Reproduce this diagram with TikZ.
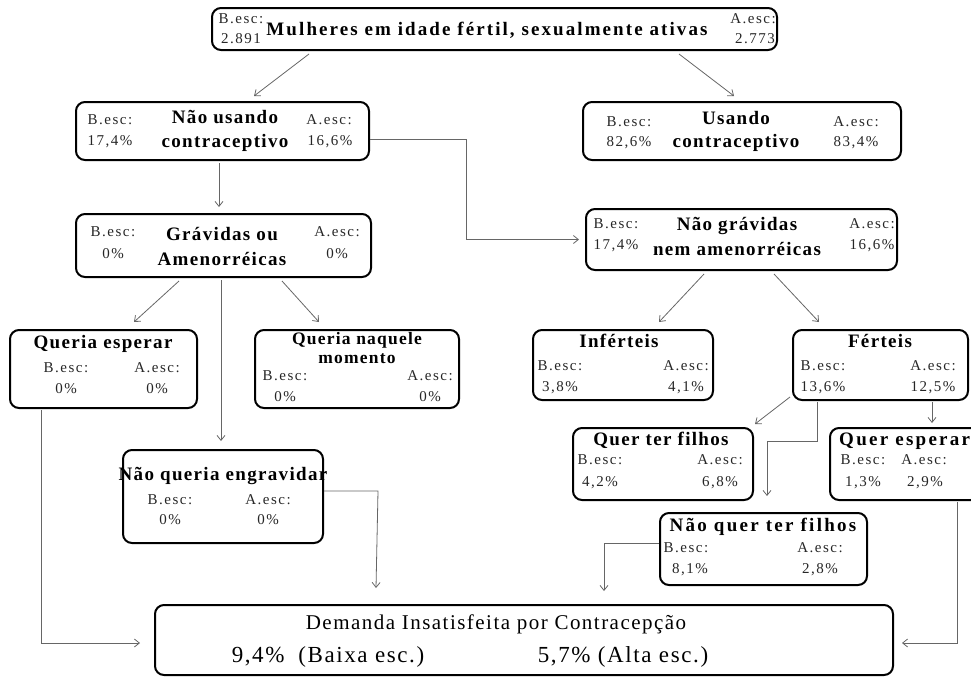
\documentclass[tikz,border=0pt]{standalone}
\usepackage{fontspec}
\setmainfont{Liberation Serif}
\newfontfamily\lsfont[LetterSpace=10]{Liberation Serif}
\newfontfamily\ttfont[LetterSpace=7]{Liberation Serif}
\newfontfamily\wideft[LetterSpace=12]{Liberation Serif}
\newfontfamily\topfont[LetterSpace=11]{Liberation Serif}
\newfontfamily\demfont[LetterSpace=7]{Liberation Serif}
\usetikzlibrary{arrows.meta,calc}
\tikzset{
 box/.style={draw=black, line width=2pt, rounded corners=9pt, inner sep=0pt},
 conn/.style={draw=black!60, line width=0.8pt, -{Straight Barb[length=5pt,width=8pt]}},
 lbl/.style={font=\lsfont\fontsize{15}{16}\selectfont, text=black!85, inner sep=0pt, text height=10pt, text depth=3pt},
 ttl/.style={font=\ttfont\bfseries\fontsize{19}{20}\selectfont, inner sep=0pt, text height=13pt, text depth=4pt},
 smttl/.style={font=\ttfont\bfseries\fontsize{17.5}{18}\selectfont, inner sep=0pt, text height=11pt, text depth=3pt},
 widettl/.style={font=\wideft\bfseries\fontsize{19}{20}\selectfont, inner sep=0pt, text height=13pt, text depth=4pt},
 toptl/.style={font=\topfont\bfseries\fontsize{19}{20}\selectfont, inner sep=0pt, text height=13pt, text depth=4pt},
 dem/.style={font=\demfont\fontsize{21}{22}\selectfont, inner sep=0pt, text height=15pt, text depth=5pt},
 dem2/.style={font=\demfont\fontsize{23}{24}\selectfont, inner sep=0pt, text height=15pt, text depth=5pt},
}
\newcommand\mybox[5]{\node[box,minimum width={(#4-#2)*1pt},minimum height={(#5-#3)*1pt}] (#1) at ({(#2+#4)/2},{(#3+#5)/2}) {};}
\begin{document}
\begin{tikzpicture}[x=1pt,y=-1pt]
\useasboundingbox (0,0) rectangle (971,681);
% top
\mybox{top}{212}{8}{777}{50}
\node[lbl] (top-b1) at (241,20) {B.esc:};
\node[lbl] (top-b2) at (241,40) {2.891};
\node[toptl] (top-t) at (487,31) {Mulheres em idade fértil, sexualmente ativas};
\node[lbl] (top-a1) at (753,20) {A.esc:};
\node[lbl] (top-a2) at (755,40) {2.773};
% nao usando
\mybox{nus}{76}{102}{369}{160}
\node[lbl] (nus-b1) at (110,121) {B.esc:};
\node[lbl] (nus-b2) at (110,142) {17,4\%};
\node[ttl] (nus-t1) at (225,119) {Não usando};
\node[ttl] (nus-t2) at (225,143) {contraceptivo};
\node[lbl] (nus-a1) at (329,121) {A.esc:};
\node[lbl] (nus-a2) at (330,142) {16,6\%};
% usando
\mybox{us}{583}{102}{901}{160}
\node[lbl] (us-b1) at (629,123) {B.esc:};
\node[lbl] (us-b2) at (629,143) {82,6\%};
\node[ttl] (us-t1) at (736,120) {Usando};
\node[ttl] (us-t2) at (736,143) {contraceptivo};
\node[lbl] (us-a1) at (856,123) {A.esc:};
\node[lbl] (us-a2) at (856,143) {83,4\%};
% gravidas
\mybox{grv}{76}{214}{371}{277}
\node[lbl] (grv-b1) at (113,233) {B.esc:};
\node[lbl] (grv-b2) at (113,255) {0\%};
\node[ttl] (grv-t1) at (222,236) {Grávidas ou};
\node[ttl] (grv-t2) at (222,261) {Amenorréicas};
\node[lbl] (grv-a1) at (337,233) {A.esc:};
\node[lbl] (grv-a2) at (337,255) {0\%};
% nao gravidas
\mybox{ngr}{586}{209}{897}{270}
\node[lbl] (ngr-b1) at (616,225) {B.esc:};
\node[lbl] (ngr-b2) at (616,246) {17,4\%};
\node[ttl] (ngr-t1) at (737,226) {Não grávidas};
\node[ttl] (ngr-t2) at (737,251) {nem amenorréicas};
\node[lbl] (ngr-a1) at (872,225) {A.esc:};
\node[lbl] (ngr-a2) at (872,246) {16,6\%};
% queria esperar
\mybox{qes}{10}{330}{197}{408}
\node[ttl] (qes-t) at (103,344) {Queria esperar};
\node[lbl] (qes-b1) at (66,369) {B.esc:};
\node[lbl] (qes-b2) at (66,390) {0\%};
\node[lbl] (qes-a1) at (157,369) {A.esc:};
\node[lbl] (qes-a2) at (157,390) {0\%};
% queria naquele momento
\mybox{qnm}{255}{330}{459}{408}
\node[smttl] (qnm-t1) at (357,340) {Queria naquele};
\node[smttl] (qnm-t2) at (357,359) {momento};
\node[lbl] (qnm-b1) at (285,377) {B.esc:};
\node[lbl] (qnm-b2) at (285,398) {0\%};
\node[lbl] (qnm-a1) at (430,377) {A.esc:};
\node[lbl] (qnm-a2) at (430,398) {0\%};
% inferteis
\mybox{inf}{533}{330}{713}{400}
\node[ttl] (inf-t) at (619,343) {Inférteis};
\node[lbl] (inf-b1) at (560,367) {B.esc:};
\node[lbl] (inf-b2) at (560,388) {3,8\%};
\node[lbl] (inf-a1) at (686,367) {A.esc:};
\node[lbl] (inf-a2) at (686,388) {4,1\%};
% ferteis
\mybox{fer}{793}{330}{968}{400}
\node[ttl] (fer-t) at (880,343) {Férteis};
\node[lbl] (fer-b1) at (823,367) {B.esc:};
\node[lbl] (fer-b2) at (823,388) {13,6\%};
\node[lbl] (fer-a1) at (933,367) {A.esc:};
\node[lbl] (fer-a2) at (933,388) {12,5\%};
% quer ter filhos
\mybox{qtf}{573}{428}{753}{500}
\node[ttl] (qtf-t) at (661,441) {Quer ter filhos};
\node[lbl] (qtf-b1) at (600,461) {B.esc:};
\node[lbl] (qtf-b2) at (600,483) {4,2\%};
\node[lbl] (qtf-a1) at (720,461) {A.esc:};
\node[lbl] (qtf-a2) at (720,483) {6,8\%};
% quer esperar
\mybox{qe}{830}{428}{980}{500}
\node[widettl,anchor=west] (qe-t) at (839,441) {Quer esperar};
\node[lbl] (qe-b1) at (863,461) {B.esc:};
\node[lbl] (qe-b2) at (863,483) {1,3\%};
\node[lbl] (qe-a1) at (924,461) {A.esc:};
\node[lbl] (qe-a2) at (925,483) {2,9\%};
% nao queria engravidar
\mybox{nqe}{123}{450}{323}{543}
\node[ttl] (nqe-t) at (223,476) {Não queria engravidar};
\node[lbl] (nqe-b1) at (170,501) {B.esc:};
\node[lbl] (nqe-b2) at (170,521) {0\%};
\node[lbl] (nqe-a1) at (268,501) {A.esc:};
\node[lbl] (nqe-a2) at (268,521) {0\%};
% nao quer ter filhos
\mybox{nqf}{660}{513}{867}{585}
\node[widettl] (nqf-t) at (763,527) {Não quer ter filhos};
\node[lbl] (nqf-b1) at (686,549) {B.esc:};
\node[lbl] (nqf-b2) at (690,570) {8,1\%};
\node[lbl] (nqf-a1) at (820,549) {A.esc:};
\node[lbl] (nqf-a2) at (820,570) {2,8\%};
% demanda
\mybox{dem}{155}{605}{893}{675}
\node[dem] (dem-t) at (496,624) {Demanda Insatisfeita por Contracepção};
\node[dem2] (dem-b) at (328,657) {9,4\%\hspace{0.6em}(Baixa esc.)};
\node[dem2] (dem-a) at (623,657) {5,7\% (Alta esc.)};
% connectors
\draw[conn] ($(top.south west)+(98,3)$) -- ($(nus.north west)+(179,-5)$);
\draw[conn] ($(top.south west)+(468,3)$) -- ($(us.north west)+(152,-5)$);
\draw[conn] ($(nus.south west)+(144,2)$) -- ($(grv.north west)+(144,-6)$);
\draw[conn] ($(nus.north east)+(0,38)$) -- ++(96,0) |- ([xshift=-6pt]ngr.west);
\draw[conn] ($(grv.south west)+(104,3)$) -- ($(qes.north west)+(125,-7)$);
\draw[conn] ($(grv.south west)+(146,2)$) -- ($(nqe.north west)+(99,-8)$);
\draw[conn] ($(grv.south west)+(207,3)$) -- ($(qnm.north west)+(65,-7)$);
\draw[conn] ($(ngr.south west)+(119,3)$) -- ($(inf.north west)+(127,-7)$);
\draw[conn] ($(ngr.south west)+(189,3)$) -- ($(fer.north west)+(27,-7)$);
\draw[conn] ($(fer.south west)+(-2,-4)$) -- ($(qtf.north east)+(1,-3)$);
\draw[conn] ($(fer.south west)+(25,1)$) -- ++(0,39) -| ($(nqf.north west)+(108,-16)$);
\draw[conn] ($(fer.south west)+(140,1)$) -- ($(qe.north west)+(103,-4)$);
\draw[conn] ($(qes.south west)+(32,1)$) |- ([xshift=-14pt,yshift=-3pt]dem.west);
\draw[conn] ($(nqe.south east)+(0,-53)$) -- ++(54,0) -- ($(dem.north west)+(222,-16)$);
\draw[conn] ($(nqf.south west)+(0,-43)$) -- ++(-55,0) -- ($(dem.north west)+(450,-13)$);
\draw[conn] ($(qe.south west)+(128,1)$) |- ([xshift=8pt,yshift=-3pt]dem.east);
\end{tikzpicture}
\end{document}
